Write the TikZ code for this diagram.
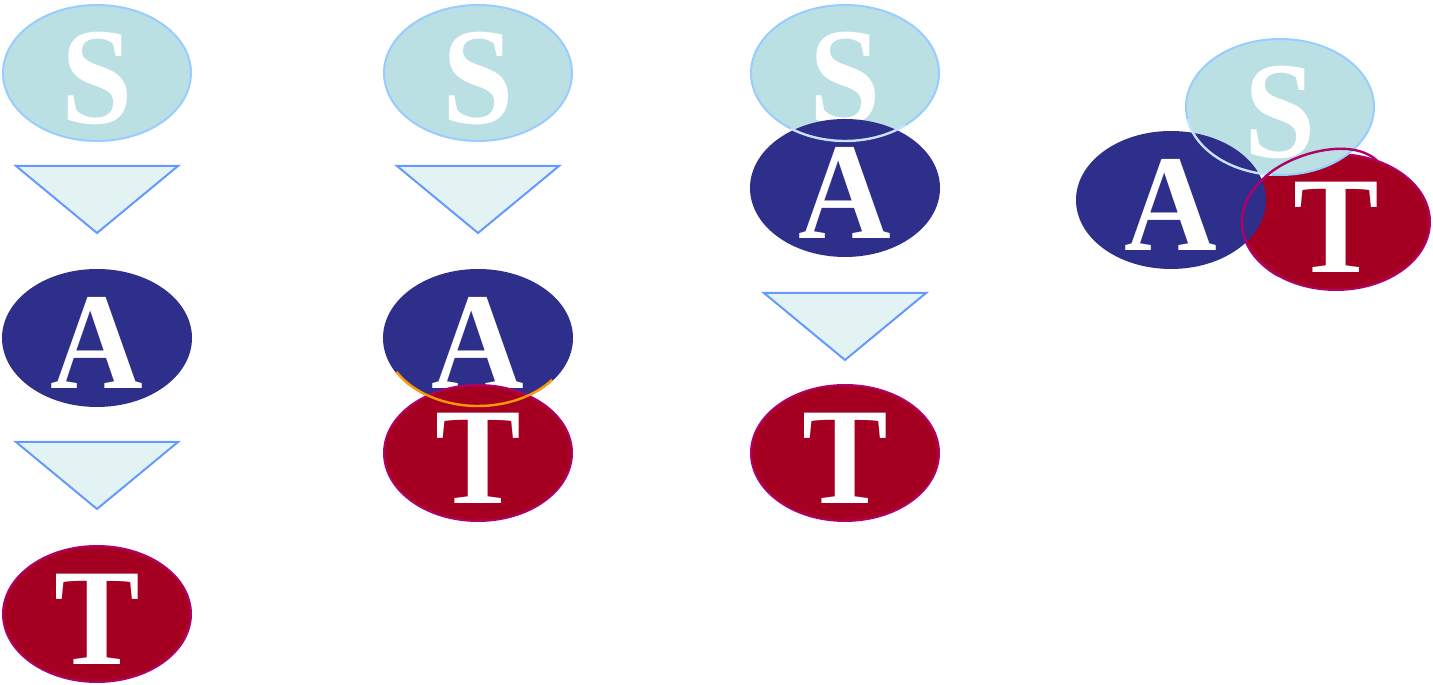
\documentclass[tikz,border=0pt]{standalone}
\usepackage{fontspec}
\setmainfont{Liberation Serif}
\newfontfamily\letterfont{Liberation Serif}[FakeStretch=0.93]
\usepackage{tikz}
\usetikzlibrary{shapes.geometric}

\definecolor{sfill}{HTML}{BAE0E3}
\definecolor{sline}{HTML}{99CCFF}
\definecolor{afill}{HTML}{2E2E8B}
\definecolor{tfill}{HTML}{A50021}
\definecolor{tline}{HTML}{B0006A}
\definecolor{trifill}{HTML}{E3F3F4}
\definecolor{triline}{HTML}{6699FF}
\definecolor{arcorange}{HTML}{FF9900}

\newcommand{\bigletter}{\letterfont\fontsize{138pt}{138pt}\selectfont\bfseries}
\newcommand{\flowtri}[2]{\draw[flowtri] (#1-81,#2) -- (#1+81,#2) -- (#1,#2-67) -- cycle;}

\begin{document}
\begin{tikzpicture}[
  x=1pt, y=1pt,
  blob/.style={ellipse,minimum width=188pt,minimum height=136pt,inner sep=0pt,line width=2pt},
  letter/.style={text=white,font=\bigletter,inner sep=0pt,yshift=-5pt},
  sbox/.style={blob,fill=sfill,draw=sline},
  abox/.style={blob,fill=afill,draw=afill},
  tbox/.style={blob,fill=tfill,draw=tline},
  flowtri/.style={fill=trifill,draw=triline,line width=2pt,line join=miter},
  overarc/.style={line width=2.4pt}
]
\useasboundingbox (0,0) rectangle (1433,685);

\node[sbox,label={[letter]center:S}] (S1) at (97,612) {};
\node[abox,label={[letter]center:A}] (A1) at (97,347) {};
\node[tbox,label={[letter]center:T}] (T1) at (97,71) {};
\flowtri{97}{519}
\flowtri{97}{243}

\node[sbox,label={[letter]center:S}] (S2) at (478,612) {};
\node[abox,label={[letter]center:A}] (A2) at (478,347) {};
\node[tbox,label={[letter]center:T}] (T2) at (478,232) {};
\flowtri{478}{519}
\draw[overarc,arcorange] ([shift={(210:94 and 68)}]A2.center)
  arc[start angle=210,end angle=322,x radius=94,y radius=68];

\node[sbox,label={[letter]center:S}] (S3) at (845,612) {};
\node[abox,label={[letter]center:A}] (A3) at (845,497) {};
\draw[overarc,sline!55!white] ([shift={(235:94 and 68)}]S3.center)
  arc[start angle=235,end angle=310,x radius=94,y radius=68];
\flowtri{845}{392}
\node[tbox,label={[letter]center:T}] (T3) at (845,232) {};

\node[tbox,label={[letter]center:T}] (T4) at (1336,463) {};
\node[sbox,label={[letter]center:S}] (S4) at (1280,578) {};
\node[abox,label={[letter]center:A}] (A4) at (1171,485) {};
\draw[overarc,sline!55!white] ([shift={(190:94 and 68)}]S4.center)
  arc[start angle=190,end angle=265,x radius=94,y radius=68];
\draw[overarc,tline] ([shift={(142:94 and 68)}]T4.center)
  arc[start angle=142,end angle=232,x radius=94,y radius=68];
\draw[overarc,tline] ([shift={(142:94 and 68)}]T4.center)
  .. controls (1285,530) and (1350,550) .. ([shift={(64:94 and 68)}]T4.center);
\end{tikzpicture}
\end{document}
